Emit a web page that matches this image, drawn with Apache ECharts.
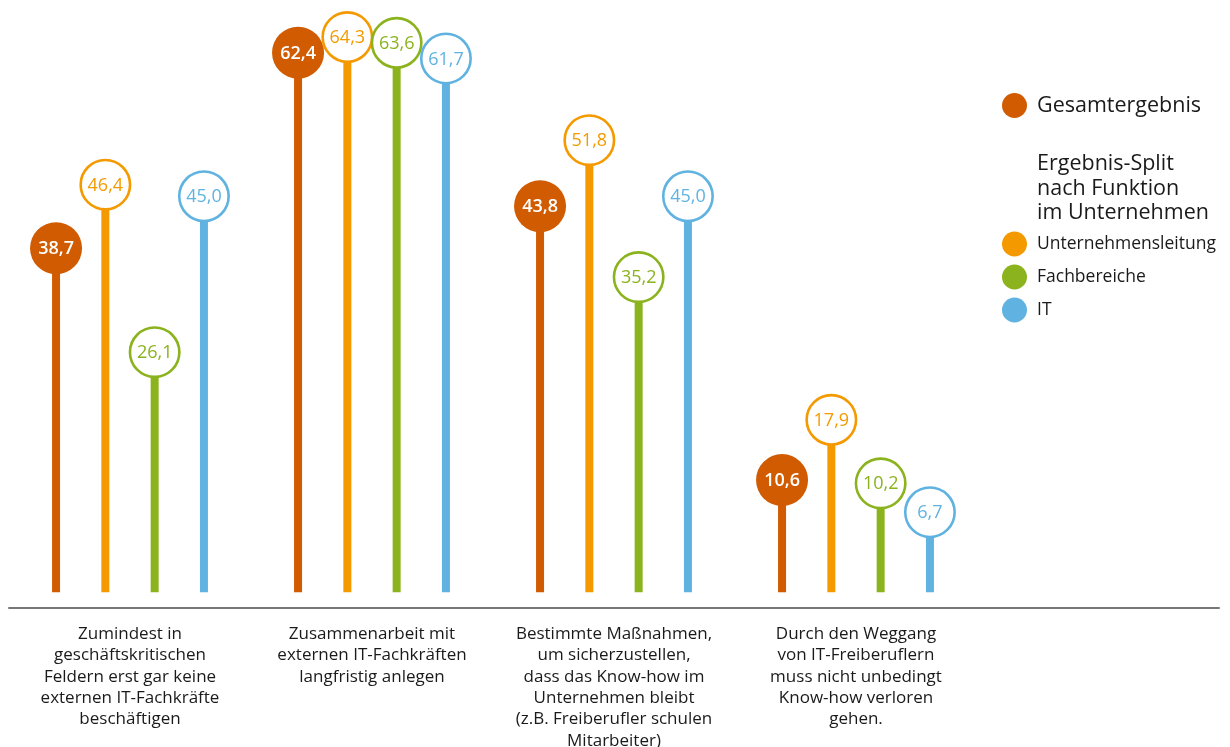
<!DOCTYPE html>
<html>
<head>
<meta charset="utf-8">
<script src="https://cdn.jsdelivr.net/npm/echarts@6/dist/echarts.min.js"></script>
<style>html,body{margin:0;padding:0;background:#fff;}#main{width:1230px;height:747px;}</style>
</head>
<body>
<div id="main"></div>
<script>
const categories = [
  'Zumindest in\ngeschäftskritischen\nFeldern erst gar keine\nexternen IT-Fachkräfte\nbeschäftigen',
  'Zusammenarbeit mit\nexternen IT-Fachkräften\nlangfristig anlegen',
  'Bestimmte Maßnahmen,\num sicherzustellen,\ndass das Know-how im\nUnternehmen bleibt\n(z.B. Freiberufler schulen\nMitarbeiter)',
  'Durch den Weggang\nvon IT-Freiberuflern\nmuss nicht unbedingt\nKnow-how verloren\ngehen.',
  ''
];
const seriesNames = ['Gesamtergebnis', 'Unternehmensleitung', 'Fachbereiche', 'IT'];
const gesamt = [38.7, 62.4, 43.8, 10.6];
const leitung = [46.4, 64.3, 51.8, 17.9];
const fach = [26.1, 63.6, 35.2, 10.2];
const it = [45.0, 61.7, 45.0, 6.7];
const colors = ['#D15B00', '#F49A00', '#8BB31D', '#60B3E1'];

const allValues = [gesamt, leitung, fach, it];
const Y_MIN = -3, Y_MAX = 67;
const FONT = '"Open Sans", Lato, sans-serif';

function fmt(v) { return v.toFixed(1).replace('.', ','); }

function makeSeries(idx) {
  const color = colors[idx];
  const filled = idx === 0;
  const offset = (idx - 1.5) * 49.3;
  return {
    name: seriesNames[idx],
    type: 'custom',
    itemStyle: { color: color },
    data: allValues[idx].map((v, i) => [i, v]),
    z: 2 + idx,
    renderItem: function (params, api) {
      const cat = api.value(0), v = api.value(1);
      const base = api.coord([cat, Y_MIN]);
      const top = api.coord([cat, v]);
      const x = top[0] + offset;
      return {
        type: 'group',
        children: [
          { type: 'rect', shape: { x: x - 4, y: top[1], width: 8, height: base[1] - top[1] }, style: { fill: color } },
          { type: 'circle', shape: { cx: x, cy: top[1], r: filled ? 26 : 24.7 },
            style: filled ? { fill: color } : { fill: '#fff', stroke: color, lineWidth: 2.6 } },
          { type: 'text', x: x, y: top[1] + 1,
            style: { text: fmt(v), fill: filled ? '#fff' : color, align: 'center', verticalAlign: 'middle',
                     fontSize: 18, fontFamily: FONT, fontWeight: filled ? 600 : 'normal' } }
        ]
      };
    }
  };
}

const chart = echarts.init(document.getElementById('main'), null, { renderer: 'canvas' });
chart.setOption({
  animation: false,
  backgroundColor: '#fff',
  title: {
    text: 'Ergebnis-Split\nnach Funktion\nim Unternehmen',
    left: 1037, top: 152, padding: 0,
    textStyle: { fontSize: 21.5, fontWeight: 500, color: '#1a1a1a', lineHeight: 24.5, fontFamily: FONT }
  },
  legend: [
    {
      data: ['Gesamtergebnis'],
      left: 1002, top: 93, padding: 0,
      itemWidth: 25, itemHeight: 25, icon: 'circle',
      textStyle: { fontSize: 21.5, fontWeight: 500, color: '#1a1a1a', fontFamily: FONT, padding: [0, 0, 0, 5] }
    },
    {
      data: ['Unternehmensleitung', 'Fachbereiche', 'IT'],
      orient: 'vertical',
      left: 1002, top: 231.5, padding: 0,
      itemWidth: 25, itemHeight: 25, itemGap: 8, icon: 'circle',
      textStyle: { fontSize: 17.5, color: '#1a1a1a', fontFamily: FONT, padding: [0, 0, 0, 5] }
    }
  ],
  grid: { left: 9, right: 11, top: 14.75, bottom: 154.75, outerBoundsMode: 'none', containLabel: false },
  xAxis: {
    type: 'category',
    data: categories,
    offset: 15,
    axisLine: { show: true, onZero: false, lineStyle: { color: '#777', width: 2 } },
    axisTick: { show: false },
    axisLabel: { interval: 0, margin: 16, fontSize: 17, lineHeight: 21.4, color: '#1a1a1a', fontFamily: FONT, verticalAlign: 'top' }
  },
  yAxis: { type: 'value', min: Y_MIN, max: Y_MAX, show: false, splitLine: { show: false } },
  series: [0, 1, 2, 3].map(makeSeries)
});
</script>
</body>
</html>
